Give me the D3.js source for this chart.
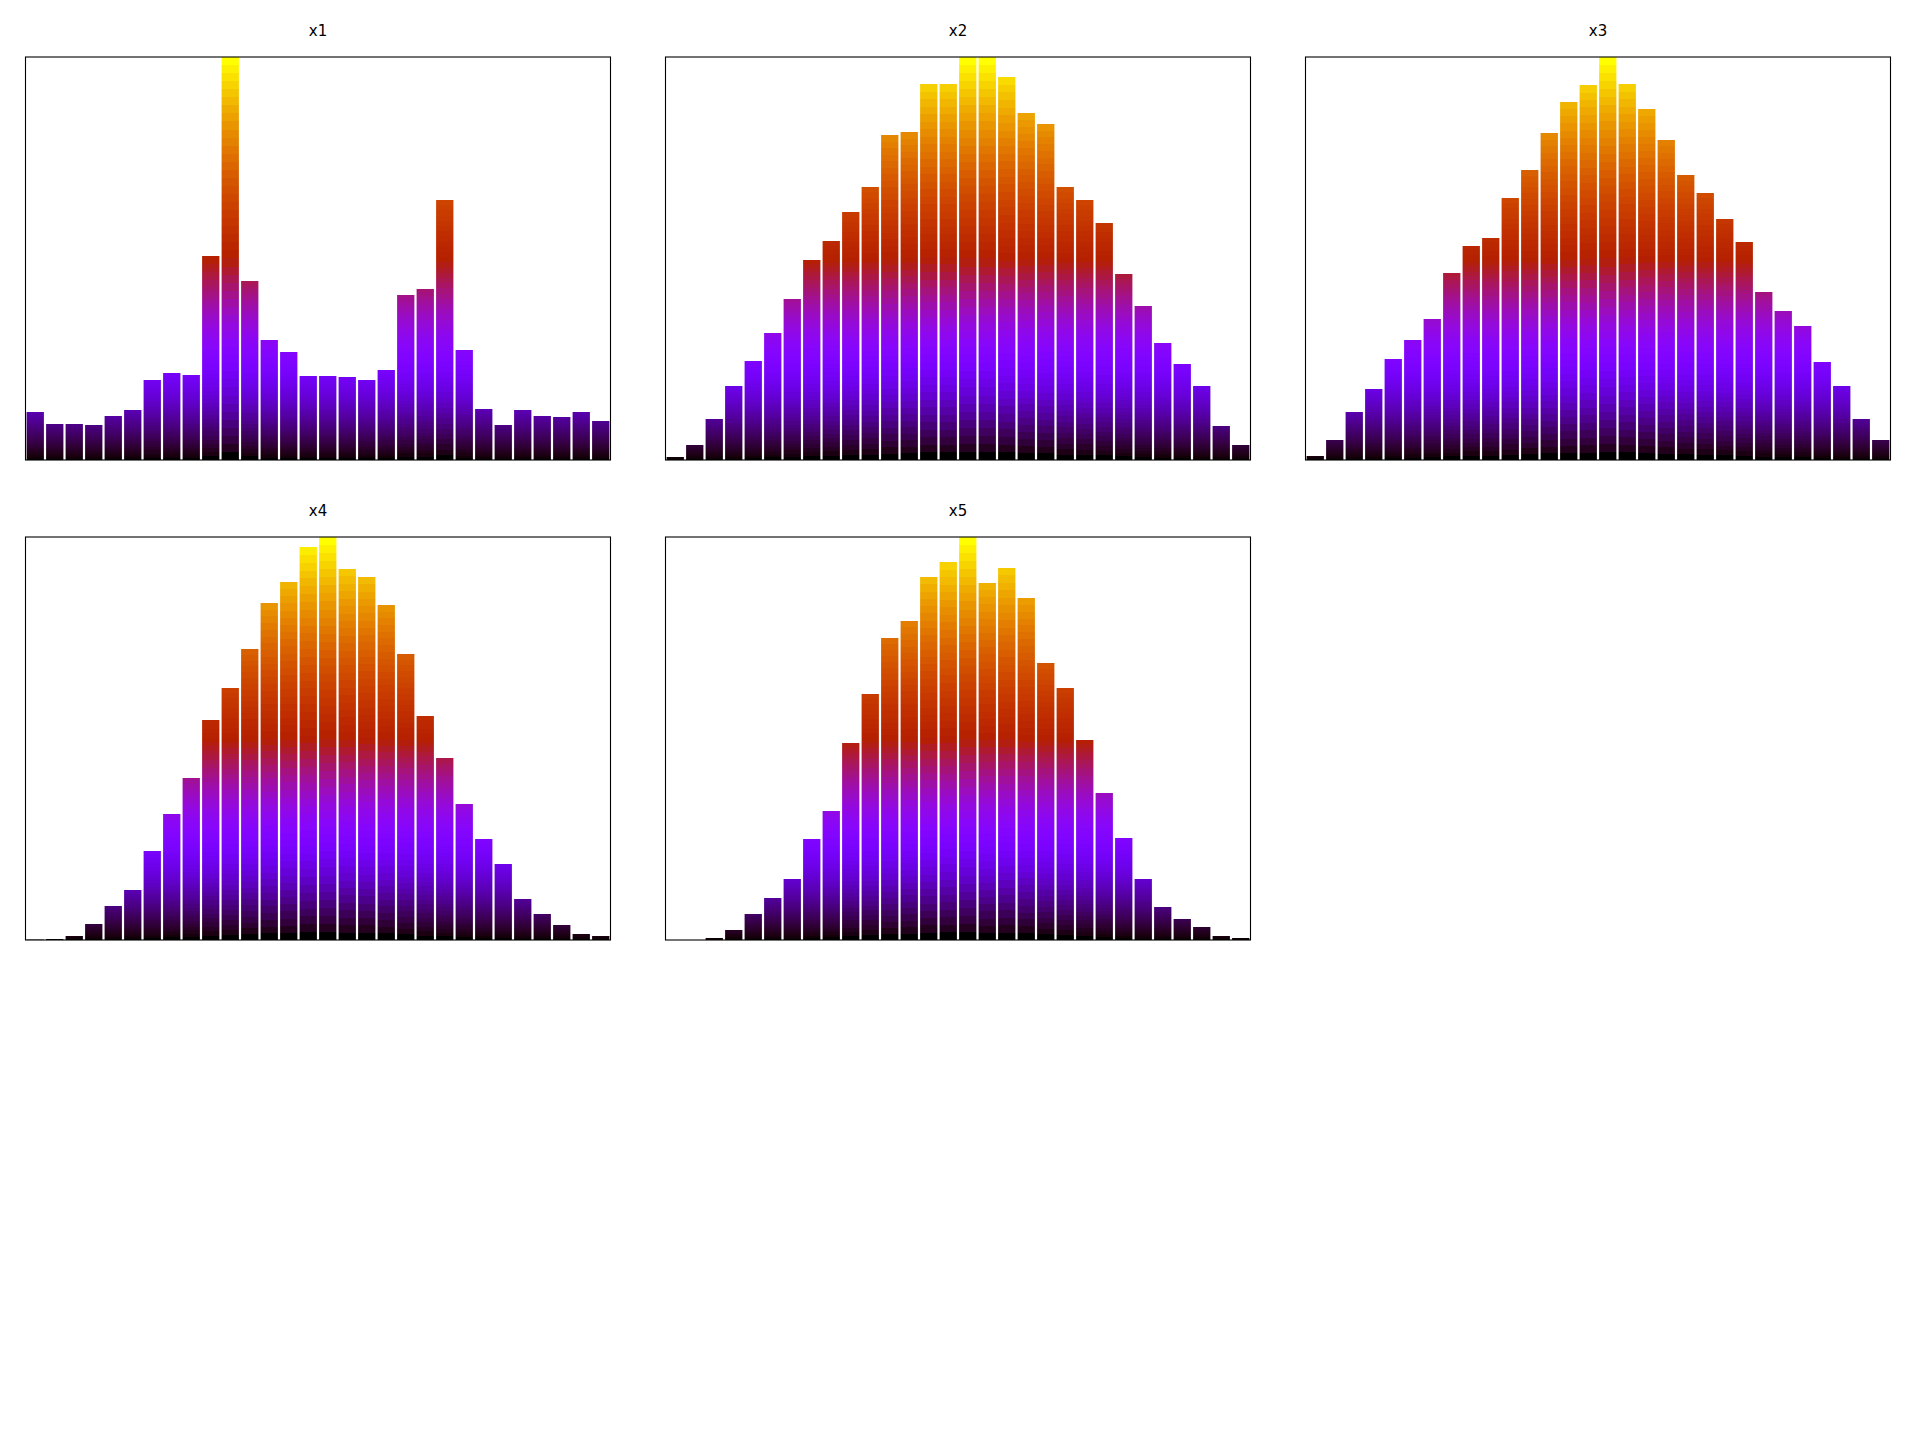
<!DOCTYPE html>
<html>
<head>
<meta charset="utf-8">
<script src="https://cdn.jsdelivr.net/npm/d3@7"></script>
<style>
  html, body { margin: 0; padding: 0; background: #fff; }
  svg { display: block; }
</style>
</head>
<body>
<svg id="chart" width="1920" height="1440"></svg>
<script>
// ---- data (bin counts, 30 bins each) ----
const titles = ["x1", "x2", "x3", "x4", "x5"];
const x1 = [48, 36, 36, 35, 44, 50, 80, 87, 85, 204, 403, 179, 120, 108, 84, 84, 83, 80, 90, 165, 171, 260, 110, 51, 35, 50, 44, 43, 48, 39];
const x2 = [3, 15, 41, 74, 99, 127, 161, 200, 219, 248, 273, 325, 328, 376, 376, 403, 403, 383, 347, 336, 273, 260, 237, 186, 154, 117, 96, 74, 34, 15];
const x3 = [4, 20, 48, 71, 101, 120, 141, 187, 214, 222, 262, 290, 327, 358, 375, 403, 376, 351, 320, 285, 267, 241, 218, 168, 149, 134, 98, 74, 41, 20];
const x4 = [0.4, 1, 4, 16, 34, 50, 89, 126, 162, 220, 252, 291, 337, 358, 393, 403, 371, 363, 335, 286, 224, 182, 136, 101, 76, 41, 26, 15, 6, 4];
const x5 = [0, 0, 2, 10, 26, 42, 61, 101, 129, 197, 246, 302, 319, 363, 378, 403, 357, 372, 342, 277, 252, 200, 147, 102, 61, 33, 21, 13, 4, 2];
const series = [x1, x2, x3, x4, x5];

// ---- layout ----
const W = 1920, H = 1440;
const colLefts = [25.5, 665.5, 1305.5];
const rowTops = [57, 537];
const axW = 585, axH = 403;
const nBands = 50;

function gnuplot(t) {
  t = Math.max(0, Math.min(1, t));
  const r = Math.sqrt(t);
  const g = t * t * t;
  const b = Math.max(0, Math.min(1, Math.sin(2 * Math.PI * t)));
  return d3.rgb(Math.round(r * 255), Math.round(g * 255), Math.round(b * 255)).formatHex();
}

const svg = d3.select("#chart");
const defs = svg.append("defs");

series.forEach((vals, p) => {
  const col = p % 3, row = Math.floor(p / 3);
  const left = colLefts[col], top = rowTops[row];
  const x = d3.scaleLinear().domain([0, vals.length]).range([left, left + axW]);
  const ymax = d3.max(vals);
  const y = d3.scaleLinear().domain([0, ymax]).range([top + axH, top]);

  const g = svg.append("g").attr("class", "panel");

  // per-bar stepped gradients
  vals.forEach((v, i) => {
    const grad = defs.append("linearGradient")
      .attr("id", `g${p}_${i}`)
      .attr("x1", 0).attr("y1", 1).attr("x2", 0).attr("y2", 0);
    const frac = v / ymax;
    for (let k = 0; k < nBands; k++) {
      const c = gnuplot((k / (nBands - 1)) * frac);
      grad.append("stop").attr("offset", k / nBands).attr("stop-color", c);
      grad.append("stop").attr("offset", (k + 1) / nBands).attr("stop-color", c);
    }
  });

  g.selectAll("rect.bar")
    .data(vals)
    .join("rect")
    .attr("class", "bar")
    .attr("x", (d, i) => x(i) + 1.1)
    .attr("width", (d, i) => x(i + 1) - x(i) - 2.2)
    .attr("y", d => y(d))
    .attr("height", d => y(0) - y(d))
    .attr("fill", (d, i) => `url(#g${p}_${i})`);

  // frame
  g.append("rect")
    .attr("x", left).attr("y", top)
    .attr("width", axW).attr("height", axH)
    .attr("fill", "none")
    .attr("stroke", "#000")
    .attr("stroke-width", 1.1);

  // title
  g.append("text")
    .attr("x", left + axW / 2)
    .attr("y", top - 21.5)
    .attr("text-anchor", "middle")
    .attr("font-family", "DejaVu Sans, sans-serif")
    .attr("font-size", 15)
    .attr("fill", "#000")
    .text(titles[p]);
});
</script>
</body>
</html>
